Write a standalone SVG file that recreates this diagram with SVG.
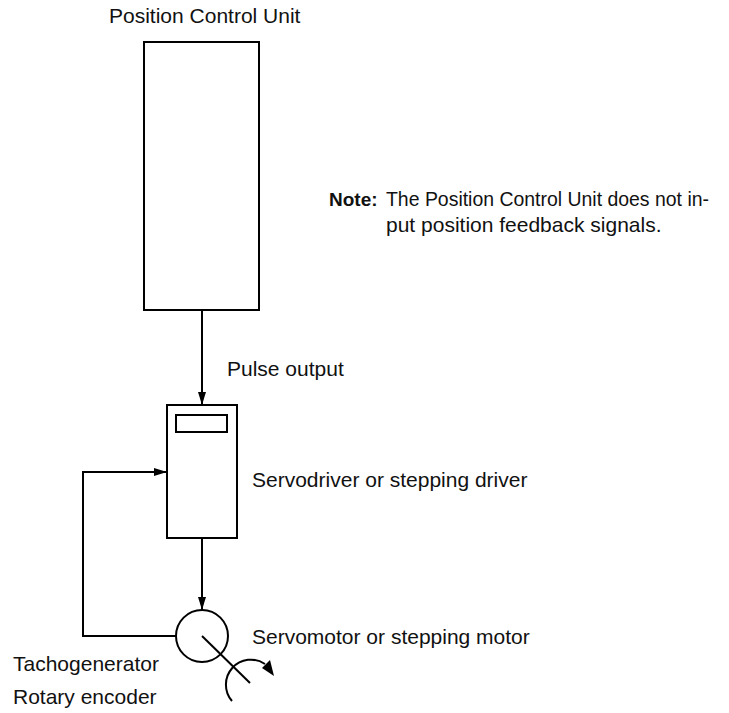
<svg xmlns="http://www.w3.org/2000/svg" width="729" height="713" viewBox="0 0 729 713">
<defs>
<style>
.t{font-family:"Liberation Sans",Arial,sans-serif;font-size:21px;fill:#111}
.b{font-weight:bold}
.s{fill:none;stroke:#000;stroke-width:2}
</style>
<marker id="ah" markerWidth="14" markerHeight="10" refX="13" refY="5" orient="auto" markerUnits="userSpaceOnUse">
<path d="M0,1 L13,5 L0,9 Z" fill="#000"/>
</marker>
</defs>
<rect width="729" height="713" fill="#fff"/>
<g id="pcu">
<rect class="s" x="144" y="42" width="115" height="268"/>
<text class="t" x="109" y="23">Position Control Unit</text>
</g>
<g id="note">
<text class="t b" x="329" y="206" style="font-size:19px">Note:</text>
<text class="t" x="386" y="206" style="font-size:19.5px" textLength="323" lengthAdjust="spacingAndGlyphs">The Position Control Unit does not in-</text>
<text class="t" x="386" y="232">put position feedback signals.</text>
</g>
<g id="driver">
<rect class="s" x="167" y="405" width="70" height="133"/>
<rect class="s" x="176" y="415" width="51" height="17"/>
<text class="t" x="252" y="487">Servodriver or stepping driver</text>
</g>
<g id="motor">
<circle class="s" cx="202" cy="636" r="26"/>
<line class="s" x1="202" y1="636" x2="250" y2="683"/>
<path class="s" d="M232,701 A25,25 0 0 1 265,664"/>
<polygon points="274,676 262,668 270,660" fill="#000"/>
<text class="t" x="252" y="644">Servomotor or stepping motor</text>
</g>
<g id="encoder">
<text class="t" x="13" y="671">Tachogenerator</text>
<text class="t" x="13" y="704">Rotary encoder</text>
</g>
<g id="connectors">
<line class="s" x1="202" y1="310" x2="202" y2="405" marker-end="url(#ah)"/>
<text class="t" x="227" y="376">Pulse output</text>
<line class="s" x1="202" y1="538" x2="202" y2="610" marker-end="url(#ah)"/>
<path class="s" d="M177,636 H83 V472 H167" marker-end="url(#ah)"/>
</g>
</svg>
